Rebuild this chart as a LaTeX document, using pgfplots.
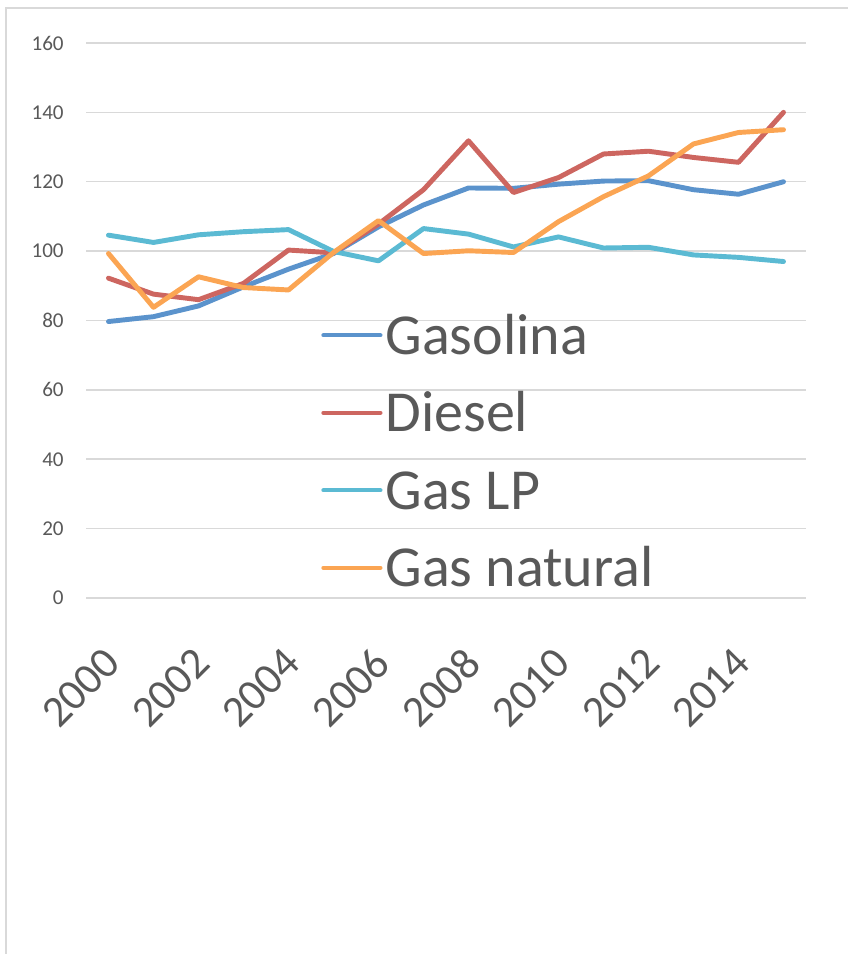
\documentclass[border=0pt]{standalone}
\usepackage{fontspec}
\setmainfont{Carlito}
\usepackage{pgfplots}
\pgfplotsset{compat=1.18}

\definecolor{cGasolina}{HTML}{5B93CC}
\definecolor{cDiesel}{HTML}{CD6660}
\definecolor{cLP}{HTML}{5BBAD3}
\definecolor{cNatural}{HTML}{FBA553}
\definecolor{txt}{HTML}{595959}
\definecolor{gridc}{HTML}{D9D9D9}

\begin{document}
\begin{tikzpicture}
% page: 848 x 954 px at 0.02cm per px
\useasboundingbox (0,0) rectangle (16.96cm,19.08cm);
\draw[gridc, line width=1.2pt] (0.12cm,0) -- (0.12cm,18.92cm) -- (16.96cm,18.92cm);
\begin{axis}[
    at={(1.72cm,7.12cm)}, anchor=south west,
    scale only axis, width=14.4cm, height=11.1cm,
    xmin=1999.5, xmax=2015.5, ymin=0, ymax=160,
    xtick={2000,2002,...,2014}, ytick={0,20,...,160},
    /pgf/number format/1000 sep={},
    /pgf/number format/assume math mode=true,
    axis line style={draw=none},
    major tick style={draw=none},
    ymajorgrids, xmajorgrids=false,
    y grid style={gridc, line width=0.85pt},
    yticklabel style={font=\fontsize{12}{14}\selectfont, text=txt, anchor=east, inner sep=0pt, xshift=-0.44cm},
    xticklabel style={font=\fontsize{25}{30}\selectfont, text=txt, inner sep=0pt, xshift=0.08cm, yshift=-1.16cm, rotate=45, anchor=east},
    legend style={at={(0.319,0.514)}, anchor=north west, draw=none, fill=none,
        font=\fontsize{33}{40}\selectfont, text=txt, row sep=0.6cm,
        nodes={inner sep=0pt, text height=0.75cm, text depth=0.2cm}},
    legend cell align=left,
    legend image code/.code={\draw[#1, line width=2.4pt] (0cm,0.1cm) -- (1.14cm,0.1cm);},
    /tikz/every odd column/.append style={column sep=0.06cm},
    every axis plot/.append style={line width=2.8pt, line join=round, line cap=round, no marks},
]
\addplot[cGasolina] coordinates {
(2000,79.7) (2001,81.1) (2002,84.2) (2003,89.7) (2004,94.8) (2005,99.3) (2006,107.0) (2007,113.3)
(2008,118.2) (2009,118.1) (2010,119.3) (2011,120.2) (2012,120.3) (2013,117.7) (2014,116.4) (2015,120.0)};
\addlegendentry{Gasolina}
\addplot[cDiesel] coordinates {
(2000,92.2) (2001,87.6) (2002,86.0) (2003,90.7) (2004,100.3) (2005,99.5) (2006,107.8) (2007,117.7)
(2008,131.8) (2009,116.9) (2010,121.2) (2011,128.0) (2012,128.8) (2013,127.0) (2014,125.6) (2015,140.0)};
\addlegendentry{Diesel}
\addplot[cLP] coordinates {
(2000,104.6) (2001,102.5) (2002,104.7) (2003,105.6) (2004,106.2) (2005,99.9) (2006,97.2) (2007,106.5)
(2008,104.9) (2009,101.2) (2010,104.1) (2011,100.9) (2012,101.1) (2013,98.9) (2014,98.2) (2015,97.0)};
\addlegendentry{Gas LP}
\addplot[cNatural] coordinates {
(2000,99.3) (2001,83.8) (2002,92.6) (2003,89.5) (2004,88.8) (2005,99.6) (2006,108.8) (2007,99.3)
(2008,100.1) (2009,99.6) (2010,108.5) (2011,115.7) (2012,121.7) (2013,130.9) (2014,134.2) (2015,135.0)};
\addlegendentry{Gas natural}
\end{axis}
\end{tikzpicture}
\end{document}
